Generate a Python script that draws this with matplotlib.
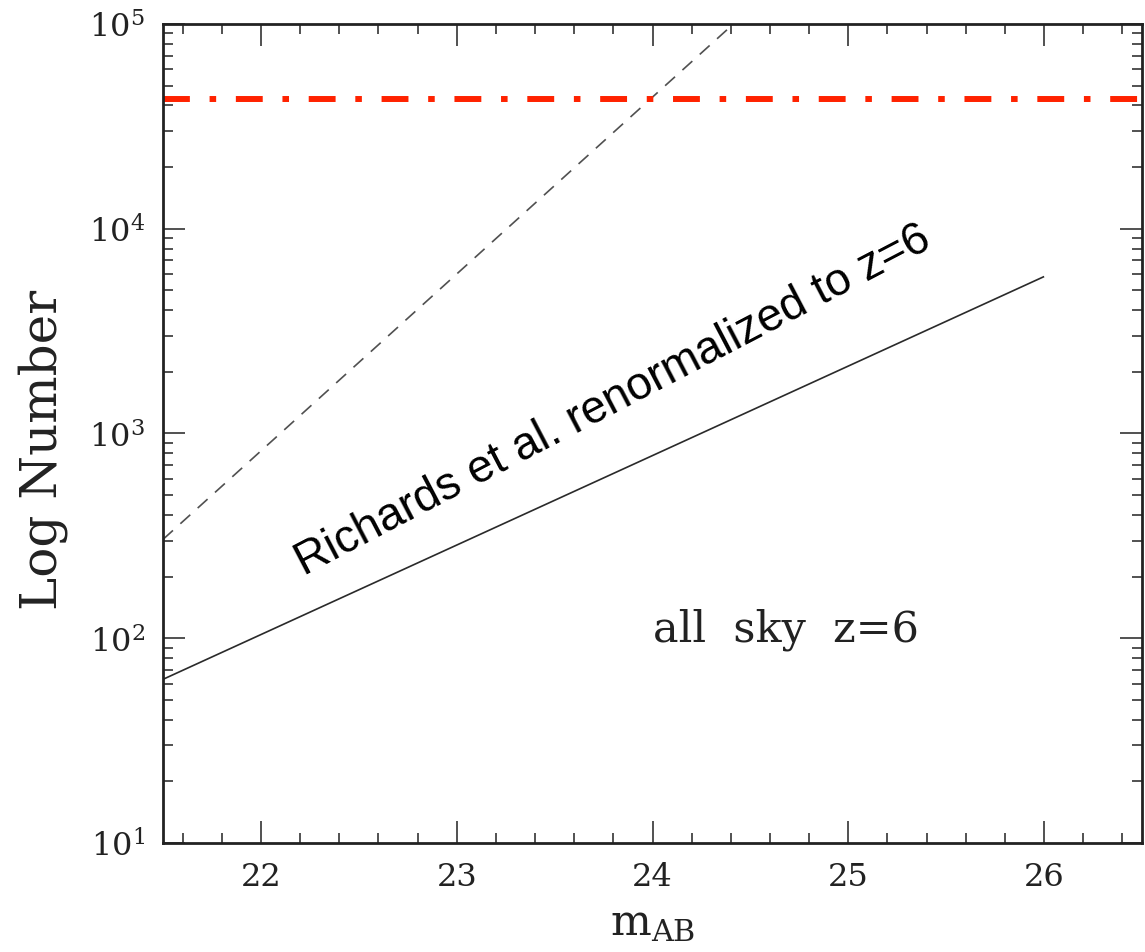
import numpy as np
import matplotlib
matplotlib.use("Agg")
import matplotlib.pyplot as plt
from matplotlib.ticker import LogLocator, MultipleLocator, NullFormatter

plt.rcParams["font.family"] = "DejaVu Serif"
plt.rcParams["mathtext.fontset"] = "dejavuserif"

# Number counts versus AB magnitude
mag_solid = [21.5, 26.0]
counts_solid = [63, 5840]          # Richards et al. renormalized to z=6

mag_dashed = [21.5, 26.0]
counts_dashed = [304, 2.35e6]      # steeper counts relation

limit_count = 4.3e4                # all-sky ceiling

x_ticks = [22, 23, 24, 25, 26]

fig = plt.figure(figsize=(11.45, 9.53), dpi=100)
ax = fig.add_axes([0.1424, 0.1144, 0.855, 0.8594])

ax.set_yscale("log")
ax.set_xlim(21.5, 26.5)
ax.set_ylim(10, 1e5)

ax.plot(mag_solid, counts_solid, color="#2a2a2a", lw=1.2, solid_capstyle="butt")
ax.plot(mag_dashed, counts_dashed, color="#505050", lw=1.2,
        dashes=(8, 6))
ax.axhline(limit_count, color="#ff2200", lw=4.3,
           dashes=(4.5, 3.3, 1.1, 3.3), dash_capstyle="butt")

ax.text(22.22, 203, "Richards et al. renormalized to z=6",
        family="Liberation Sans", fontsize=33, rotation=27.6,
        rotation_mode="anchor", ha="left", va="baseline", color="black")
ax.text(24.0, 97, "all  sky  z=6", fontsize=31, ha="left", va="baseline",
        color="#222222")

ax.set_xticks(x_ticks)
ax.set_xticklabels([str(t) for t in x_ticks])
ax.xaxis.set_minor_locator(MultipleLocator(0.2))
ax.yaxis.set_major_locator(LogLocator(base=10, numticks=10))
ax.yaxis.set_minor_locator(LogLocator(base=10, subs=np.arange(2, 10), numticks=20))
ax.yaxis.set_minor_formatter(NullFormatter())

ax.tick_params(which="both", direction="in", top=True, right=True,
               colors="#222222", labelcolor="#222222")
ax.tick_params(which="major", length=16, width=1.1, labelsize=23, pad=13)
ax.tick_params(which="minor", length=7.5, width=1.1)
for s in ax.spines.values():
    s.set_linewidth(2.0)
    s.set_color("#222222")

ax.set_xlabel(r"$\mathrm{m}_{\mathrm{AB}}$", fontsize=31, color="#222222", labelpad=7)
ax.set_ylabel("Log Number", fontsize=36, color="#222222")
ax.yaxis.set_label_coords(-0.097, 0.481)

fig.savefig("out.png", dpi=100)
